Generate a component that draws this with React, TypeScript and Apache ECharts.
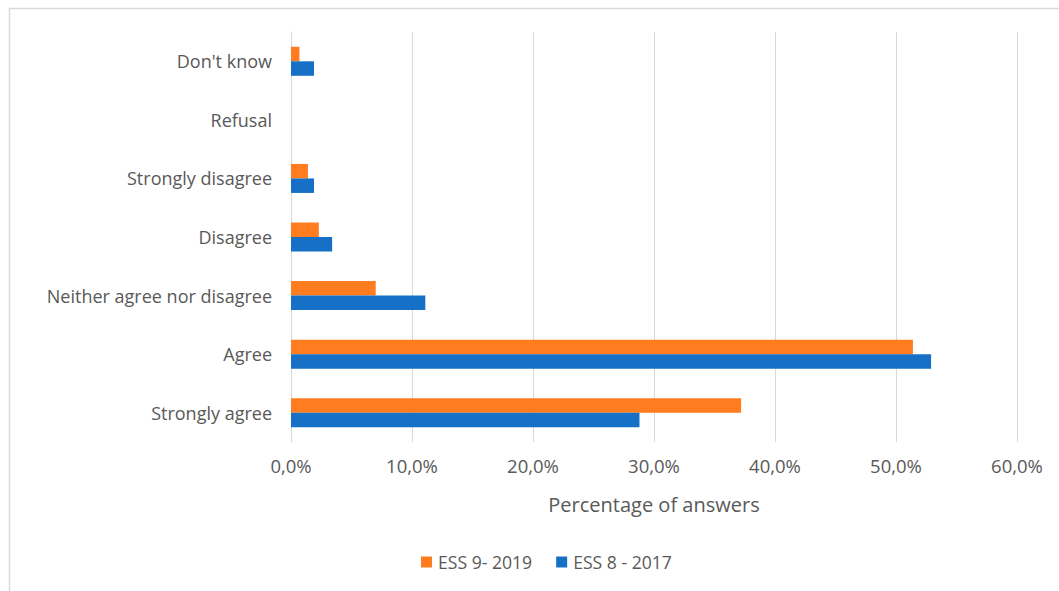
import React, { useEffect, useRef } from "react";
import * as echarts from "echarts";

const categories = ["Strongly agree", "Agree", "Neither agree nor disagree", "Disagree", "Strongly disagree", "Refusal", "Don't know"];
const ess9_2019 = [37.2, 51.4, 7.0, 2.3, 1.4, 0, 0.7];
const ess8_2017 = [28.8, 52.9, 11.1, 3.4, 1.9, 0, 1.9];
const xTicks = [0, 10, 20, 30, 40, 50, 60];

const fmt = (v: number) => v.toFixed(1).replace(".", ",") + "%";

export default function App() {
  const ref = useRef<HTMLDivElement>(null);
  useEffect(() => {
    const chart = echarts.init(ref.current!, null, { renderer: "svg" });
    const font = "'Open Sans', sans-serif";
    chart.setOption({
      animation: false,
      textStyle: { fontFamily: font },
      grid: { left: 291, right: 42, top: 32, bottom: 149, containLabel: false },
      xAxis: {
        type: "value",
        min: xTicks[0],
        max: xTicks[xTicks.length - 1],
        interval: 10,
        axisLine: { show: false },
        axisTick: { show: false },
        splitLine: { lineStyle: { color: "#d9d9d9", width: 1 } },
        axisLabel: { formatter: fmt, color: "#595959", fontSize: 18.5, margin: 14, fontFamily: font },
        name: "Percentage of answers",
        nameLocation: "middle",
        nameGap: 52,
        nameTextStyle: { color: "#595959", fontSize: 20, fontFamily: font },
      },
      yAxis: {
        type: "category",
        data: categories,
        axisLine: { show: true, lineStyle: { color: "#d9d9d9" } },
        axisTick: { show: false },
        axisLabel: { color: "#595959", fontSize: 18, margin: 19, fontFamily: font },
      },
      legend: {
        data: ["ESS 9- 2019", "ESS 8 - 2017"],
        bottom: 15,
        left: 416,
        itemWidth: 11,
        itemHeight: 11,
        itemGap: 24,
        icon: "rect",
        textStyle: { color: "#595959", fontSize: 17.6, fontFamily: font, padding: [0, 0, 0, 1] },
      },
      graphic: [
        { type: "line", shape: { x1: 9, y1: 8.5, x2: 1059, y2: 8.5 }, style: { stroke: "#d9d9d9", lineWidth: 1.5 } },
        { type: "line", shape: { x1: 9.5, y1: 8, x2: 9.5, y2: 591 }, style: { stroke: "#d9d9d9", lineWidth: 1.5 } },
      ],
      series: [
        {
          name: "ESS 9- 2019",
          type: "bar",
          data: ess9_2019,
          barWidth: 14.5,
          barGap: "0%",
          itemStyle: { color: "#ff7c1f" },
        },
        {
          name: "ESS 8 - 2017",
          type: "bar",
          data: ess8_2017,
          barWidth: 14.5,
          barGap: "0%",
          itemStyle: { color: "#1570c6" },
        },
      ],
    });
    return () => chart.dispose();
  }, []);
  return <div ref={ref} style={{ position: "fixed", left: 0, top: 0, width: 1059, height: 591, background: "#fff" }} />;
}
